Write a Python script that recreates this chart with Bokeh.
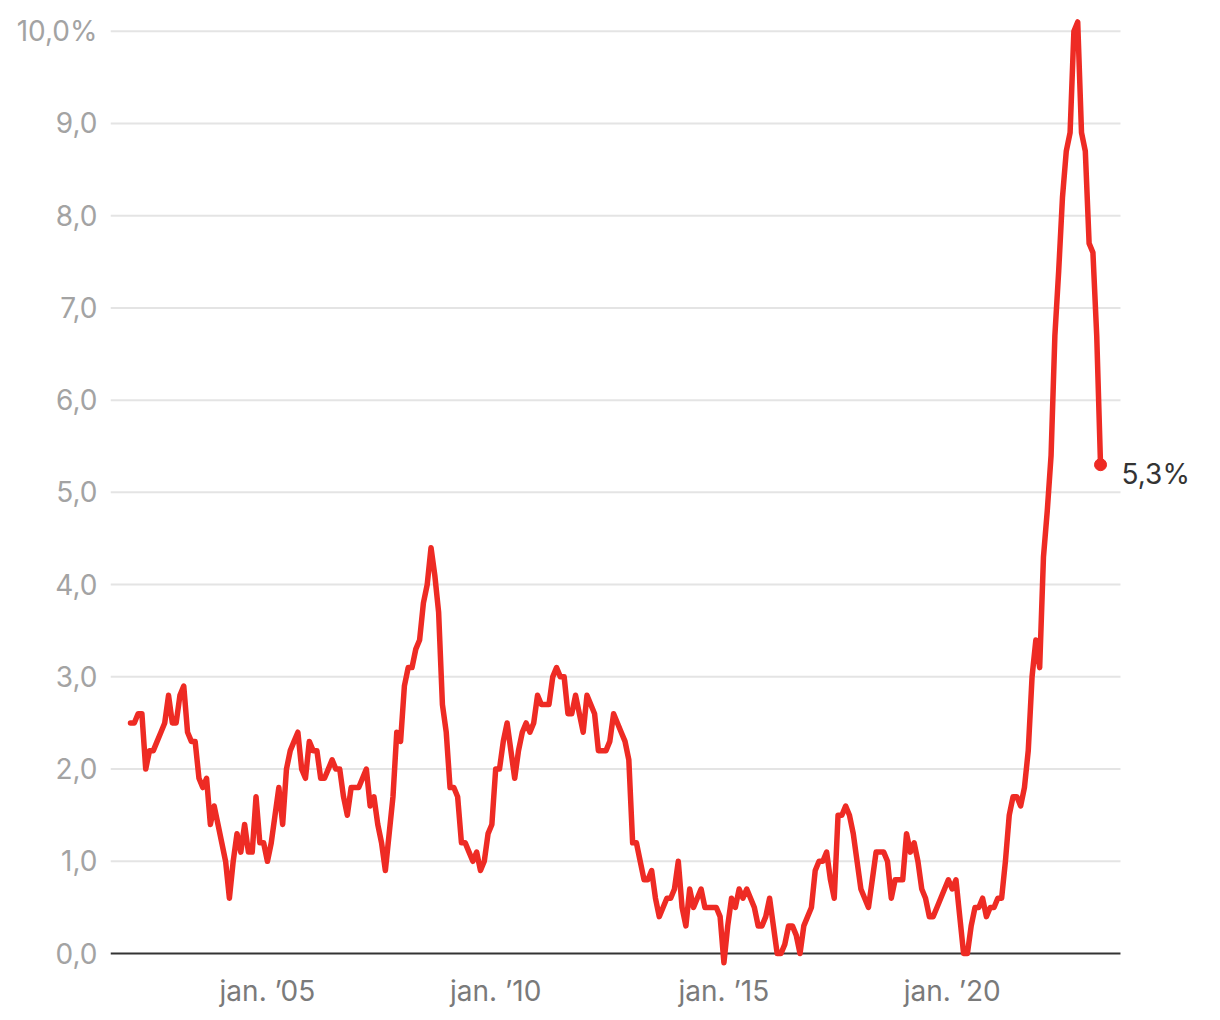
from bokeh.plotting import figure
from bokeh.models import FixedTicker, Range1d
from bokeh.core.properties import value
from bokeh.embed import file_html
from bokeh.resources import INLINE

# Monthly inflation (%), Jan 2002 .. Apr 2023
start_year = 2002
inflation = [
    2.5, 2.5, 2.6, 2.6, 2.0, 2.2, 2.2, 2.3, 2.4, 2.5, 2.8, 2.5,   # 2002
    2.5, 2.8, 2.9, 2.4, 2.3, 2.3, 1.9, 1.8, 1.9, 1.4, 1.6, 1.4,   # 2003
    1.2, 1.0, 0.6, 1.0, 1.3, 1.1, 1.4, 1.1, 1.1, 1.7, 1.2, 1.2,   # 2004
    1.0, 1.2, 1.5, 1.8, 1.4, 2.0, 2.2, 2.3, 2.4, 2.0, 1.9, 2.3,   # 2005
    2.2, 2.2, 1.9, 1.9, 2.0, 2.1, 2.0, 2.0, 1.7, 1.5, 1.8, 1.8,   # 2006
    1.8, 1.9, 2.0, 1.6, 1.7, 1.4, 1.2, 0.9, 1.3, 1.7, 2.4, 2.3,   # 2007
    2.9, 3.1, 3.1, 3.3, 3.4, 3.8, 4.0, 4.4, 4.1, 3.7, 2.7, 2.4,   # 2008
    1.8, 1.8, 1.7, 1.2, 1.2, 1.1, 1.0, 1.1, 0.9, 1.0, 1.3, 1.4,   # 2009
    2.0, 2.0, 2.3, 2.5, 2.2, 1.9, 2.2, 2.4, 2.5, 2.4, 2.5, 2.8,   # 2010
    2.7, 2.7, 2.7, 3.0, 3.1, 3.0, 3.0, 2.6, 2.6, 2.8, 2.6, 2.4,   # 2011
    2.8, 2.7, 2.6, 2.2, 2.2, 2.2, 2.3, 2.6, 2.5, 2.4, 2.3, 2.1,   # 2012
    1.2, 1.2, 1.0, 0.8, 0.8, 0.9, 0.6, 0.4, 0.5, 0.6, 0.6, 0.7,   # 2013
    1.0, 0.5, 0.3, 0.7, 0.5, 0.6, 0.7, 0.5, 0.5, 0.5, 0.5, 0.4,   # 2014
    -0.1, 0.3, 0.6, 0.5, 0.7, 0.6, 0.7, 0.6, 0.5, 0.3, 0.3, 0.4,  # 2015
    0.6, 0.3, 0.0, 0.0, 0.1, 0.3, 0.3, 0.2, 0.0, 0.3, 0.4, 0.5,   # 2016
    0.9, 1.0, 1.0, 1.1, 0.8, 0.6, 1.5, 1.5, 1.6, 1.5, 1.3, 1.0,   # 2017
    0.7, 0.6, 0.5, 0.8, 1.1, 1.1, 1.1, 1.0, 0.6, 0.8, 0.8, 0.8,   # 2018
    1.3, 1.1, 1.2, 1.0, 0.7, 0.6, 0.4, 0.4, 0.5, 0.6, 0.7, 0.8,   # 2019
    0.7, 0.8, 0.4, 0.0, 0.0, 0.3, 0.5, 0.5, 0.6, 0.4, 0.5, 0.5,   # 2020
    0.6, 0.6, 1.0, 1.5, 1.7, 1.7, 1.6, 1.8, 2.2, 3.0, 3.4, 3.1,   # 2021
    4.3, 4.8, 5.4, 6.7, 7.4, 8.2, 8.7, 8.9, 10.0, 10.1, 8.9, 8.7, # 2022
    7.7, 7.6, 6.7, 5.3,                                           # 2023
]
x_tick_years = [2005, 2010, 2015, 2020]
x_tick_labels = ["jan. \u201905", "jan. \u201910", "jan. \u201915", "jan. \u201920"]
y_ticks = [0, 1, 2, 3, 4, 5, 6, 7, 8, 9, 10]
y_tick_labels = ["0,0", "1,0", "2,0", "3,0", "4,0", "5,0", "6,0", "7,0", "8,0", "9,0", "10,0%"]
last_label = "5,3%"

xs = [start_year + i / 12 for i in range(len(inflation))]

FONT = "Inter"
RED = "#ee2b24"
X_START, X_GRID_END, X_END = 2001.562, 2023.687, 2025.44

p = figure(width=1200, height=1010, output_backend="svg", toolbar_location=None,
           x_range=Range1d(X_START, X_END), y_range=Range1d(-0.162, 10.17),
           min_border_left=110, min_border_right=0, min_border_top=15, min_border_bottom=40)
p.outline_line_color = None
p.background_fill_color = "white"
p.border_fill_color = "white"
p.xgrid.grid_line_color = None
p.ygrid.grid_line_color = None

# horizontal grid lines (stop before the end label area)
grid_y = y_ticks[1:]
p.segment(x0=[X_START] * len(grid_y), y0=grid_y, x1=[X_GRID_END] * len(grid_y), y1=grid_y,
          line_color="#e4e4e4", line_width=2)
# baseline
p.segment(x0=[X_START], y0=[0], x1=[X_GRID_END], y1=[0], line_color="#333333", line_width=2)

# axes
for ax in (p.xaxis[0], p.yaxis[0]):
    ax.axis_line_color = None
    ax.major_tick_line_color = None
    ax.minor_tick_line_color = None
    ax.major_tick_out = 0
    ax.major_tick_in = 0
    ax.minor_tick_out = 0
    ax.minor_tick_in = 0
    ax.major_label_text_font = FONT
    ax.major_label_text_font_size = "28px"

p.yaxis.ticker = FixedTicker(ticks=y_ticks)
p.yaxis.major_label_overrides = {t: l for t, l in zip(y_ticks, y_tick_labels)}
p.yaxis.major_label_text_color = "#a3a3a3"
p.yaxis.major_label_standoff = 13

p.xaxis.ticker = FixedTicker(ticks=x_tick_years)
p.xaxis.major_label_overrides = {t: l for t, l in zip(x_tick_years, x_tick_labels)}
p.xaxis.major_label_text_color = "#7a7a7a"
p.xaxis.major_label_standoff = 5

# series
p.line(xs, inflation, line_color=RED, line_width=5.5, line_join="round", line_cap="round")
p.scatter([xs[-1]], [inflation[-1]], size=12, fill_color=RED, line_color=RED)
p.text([xs[-1]], [inflation[-1]], text=[last_label], x_offset=21, y_offset=9,
       text_font=value(FONT), text_font_size="28px", text_color="#333333",
       text_align="left", text_baseline="middle")

open("out.html", "w").write(file_html(p, INLINE))
